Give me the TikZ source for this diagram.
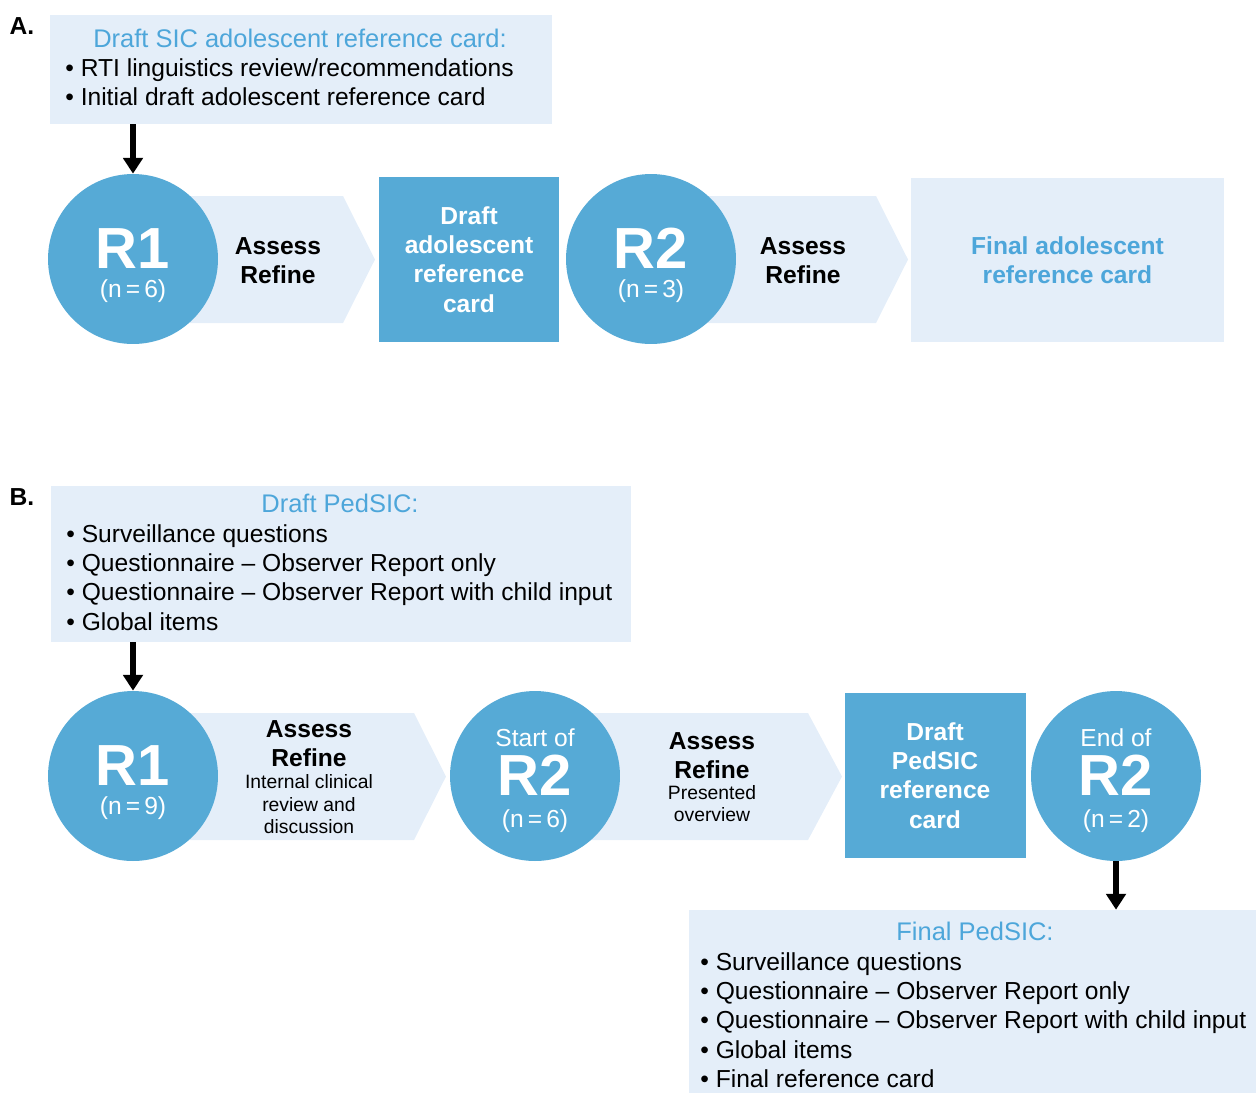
\documentclass[tikz,border=0pt]{standalone}
\usepackage{fontspec}
\setmainfont{Liberation Sans}
\usetikzlibrary{arrows.meta}
\definecolor{cardblue}{RGB}{86,170,214}
\definecolor{paleblue}{RGB}{228,238,249}
\definecolor{headblue}{RGB}{77,166,218}
\begin{document}
\begin{tikzpicture}[x=0.02cm,y=-0.02cm,
	pale/.style={fill=paleblue,inner sep=0pt},
	card/.style={fill=cardblue,inner sep=0pt,text=white,align=center,font=\fontsize{14}{16.7}\selectfont\bfseries,minimum width=3.62cm,minimum height=3.3cm},
	rnd/.style={circle,fill=cardblue,inner sep=0pt,minimum size=3.4cm},
	big/.style={anchor=base,inner sep=0pt,text=white,font=\fontsize{33}{33}\selectfont\bfseries},
	cnt/.style={anchor=base,inner sep=0pt,text=white,font=\fontsize{14}{16}\selectfont},
	act/.style={anchor=base,inner sep=0pt,font=\fontsize{14}{16}\selectfont\bfseries},
	note/.style={anchor=base,inner sep=0pt,font=\fontsize{11}{13}\selectfont},
	head/.style={anchor=base,inner sep=0pt,text=headblue,font=\fontsize{14.5}{17}\selectfont},
	list/.style={anchor=north west,inner sep=0pt,align=left,font=\fontsize{14}{16.7}\selectfont},
	panel/.style={anchor=base,inner sep=0pt,font=\fontsize{14}{16}\selectfont\bfseries},
	arr/.style={-{Triangle[length=9pt,width=11pt]},line width=3.2pt}]
\useasboundingbox (0,0) rectangle (1256,1093);

% ---- A ----
\node[panel] (aLbl) at (22,34) {A.};
\node[pale,minimum width=10.04cm,minimum height=2.18cm] (aTop) at (301,69.5) {};
\node[head] (aHead) at (300,47) {Draft SIC adolescent reference card:};
\node[list] (aList) at (65,58) {\textbullet\ RTI linguistics review/recommendations\\
	\textbullet\ Initial draft adolescent reference card};
\fill[paleblue] (190,196) -- (343,196) -- (375,259.5) -- (343,323) -- (190,323) -- cycle;
\fill[paleblue] (700,196) -- (876,196) -- (908,259.5) -- (876,323) -- (700,323) -- cycle;
\node[rnd] (aR1) at (133,259) {};
\node[big] (aR1t) at (133,268) {R1};
\node[cnt] (aR1n) at (133,297) {(n\,=\,6)};
\node[act] (aAs1) at (278,254) {Assess};
\node[act] (aRf1) at (278,283) {Refine};
\node[card] (aDraft) at (469,259.5) {Draft\\adolescent\\reference\\card};
\node[rnd] (aR2) at (651,259) {};
\node[big] (aR2t) at (651,268) {R2};
\node[cnt] (aR2n) at (651,297) {(n\,=\,3)};
\node[act] (aAs2) at (803,254) {Assess};
\node[act] (aRf2) at (803,283) {Refine};
\node[pale,minimum width=6.26cm,minimum height=3.28cm,text=headblue,align=center,font=\fontsize{14}{16.7}\selectfont\bfseries] (aFin) at (1067.5,260) {Final adolescent\\reference card};
\draw[arr] (aR1 |- aTop.south) -- (aR1.north);

% ---- B ----
\node[panel] (bLbl) at (22,505) {B.};
\node[pale,minimum width=11.6cm,minimum height=3.12cm] (bTop) at (341,564) {};
\node[head] (bHead) at (340,512) {Draft PedSIC:};
\node[list] (bList) at (66,524) {\textbullet\ Surveillance questions\\
	\textbullet\ Questionnaire -- Observer Report only\\
	\textbullet\ Questionnaire -- Observer Report with child input\\
	\textbullet\ Global items};
\fill[paleblue] (190,713) -- (414,713) -- (446,776.5) -- (414,840) -- (190,840) -- cycle;
\fill[paleblue] (590,713) -- (808,713) -- (842,776.5) -- (808,840) -- (590,840) -- cycle;
\node[rnd] (bR1) at (133,776) {};
\node[big] (bR1t) at (133,785) {R1};
\node[cnt] (bR1n) at (133,814) {(n\,=\,9)};
\node[act] (bAs1) at (309,737) {Assess};
\node[act] (bRf1) at (309,766) {Refine};
\node[note] (bNt1) at (309,788) {Internal clinical};
\node[note] (bNt2) at (309,811) {review and};
\node[note] (bNt3) at (309,833) {discussion};
\node[rnd] (bS) at (535,776) {};
\node[cnt] (bSt) at (535,746) {Start of};
\node[big] (bSr) at (535,795) {R2};
\node[cnt] (bSn) at (535,827) {(n\,=\,6)};
\node[act] (bAs2) at (712,749) {Assess};
\node[act] (bRf2) at (712,778) {Refine};
\node[note] (bNt4) at (712,799) {Presented};
\node[note] (bNt5) at (712,821) {overview};
\node[card] (bDraft) at (935,775.5) {Draft\\PedSIC\\reference\\card};
\node[rnd] (bE) at (1116,776) {};
\node[cnt] (bEt) at (1116,746) {End of};
\node[big] (bEr) at (1116,795) {R2};
\node[cnt] (bEn) at (1116,827) {(n\,=\,2)};
\node[pale,minimum width=11.34cm,minimum height=3.66cm] (bFin) at (972.5,1001.5) {};
\node[head] (bFHead) at (975,940) {Final PedSIC:};
\node[list] (bFList) at (700,952) {\textbullet\ Surveillance questions\\
	\textbullet\ Questionnaire -- Observer Report only\\
	\textbullet\ Questionnaire -- Observer Report with child input\\
	\textbullet\ Global items\\
	\textbullet\ Final reference card};
\draw[arr] (bR1 |- bTop.south) -- (bR1.north);
\draw[arr] (bE.south) -- (bE |- bFin.north);
\end{tikzpicture}
\end{document}
